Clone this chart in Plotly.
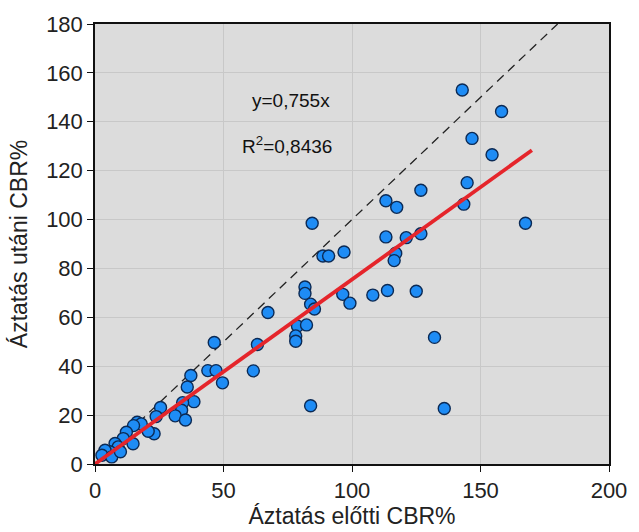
import plotly.graph_objects as go

# CBR% before soaking (x) and after soaking (y)
cbr_before = [142.9, 158.2, 146.7, 154.5, 144.8, 126.8, 113.2, 117.4, 143.5, 167.5,
              84.5, 113.2, 121.1, 126.8, 117.0, 116.4, 96.9, 88.7, 90.9, 113.8,
              125.0, 108.1, 132.1, 135.9, 81.7, 81.7, 83.9, 85.4, 96.4, 99.2,
              67.3, 78.8, 82.3, 78.1, 78.1, 63.2, 61.6, 83.9,
              46.4, 43.9, 47.1, 49.6, 37.3, 35.9, 38.5, 34.1, 33.7, 31.2,
              35.2, 25.5, 23.8, 23.0, 20.7, 16.4, 18.0, 15.0, 12.2, 11.0,
              14.8, 7.8, 9.0, 5.8, 3.9, 2.7, 6.5, 9.9]
cbr_after = [153.0, 144.2, 133.2, 126.5, 115.1, 112.0, 107.7, 105.0, 106.3, 98.5,
             98.5, 92.9, 92.6, 94.2, 86.2, 83.2, 86.7, 85.1, 85.1, 71.0,
             70.7, 69.1, 51.8, 22.7, 72.4, 69.8, 65.4, 63.4, 69.4, 65.8,
             62.0, 56.4, 56.9, 52.4, 50.2, 48.9, 38.1, 23.8,
             49.7, 38.2, 38.2, 33.2, 36.2, 31.5, 25.5, 25.1, 22.0, 19.7,
             18.0, 23.1, 19.4, 12.4, 13.4, 17.1, 16.4, 15.7, 13.0, 10.4,
             8.3, 8.4, 7.0, 5.0, 5.6, 3.6, 2.9, 5.0]

# regression through the origin and the 1:1 reference line
fit_slope = 0.755
fit_r2 = "0,8436"
fit_x = [0, 170]
identity_x = [0, 180]

x_ticks = [0, 50, 100, 150, 200]
y_ticks = [0, 20, 40, 60, 80, 100, 120, 140, 160, 180]

fig = go.Figure()

fig.add_trace(go.Scatter(
    x=identity_x, y=identity_x, mode="lines",
    line=dict(color="#222222", width=1.3, dash="9px,6px"),
    hoverinfo="skip", showlegend=False))

fig.add_trace(go.Scatter(
    x=cbr_before, y=cbr_after, mode="markers",
    marker=dict(size=12, color="#1e8cf5",
                line=dict(color="#0b2a55", width=1.4)),
    showlegend=False))

fig.add_trace(go.Scatter(
    x=fit_x, y=[fit_slope * v for v in fit_x], mode="lines",
    line=dict(color="#e5252b", width=3.8),
    hoverinfo="skip", showlegend=False))

font = "Liberation Sans, Arial, sans-serif"
slope_text = str(fit_slope).replace(".", ",")

fig.add_annotation(x=76.3, y=148.9, xref="x", yref="y", showarrow=False,
                   text="y=" + slope_text + "x",
                   font=dict(family=font, size=19, color="#111111"))
fig.add_annotation(x=74.8, y=130.3, xref="x", yref="y", showarrow=False,
                   text="R<sup>2</sup>=" + fit_r2,
                   font=dict(family=font, size=19, color="#111111"))

axis_common = dict(
    showline=True, linecolor="#111111", linewidth=1.5, mirror=True,
    ticks="outside", ticklen=6, tickwidth=1.3, tickcolor="#111111",
    showgrid=True, gridcolor="#c8c8c8", gridwidth=1.2,
    zeroline=False,
    tickfont=dict(family=font, size=22, color="#222222"),
)

fig.update_xaxes(range=[0, 200], tickvals=x_ticks,
                 title=dict(text="Áztatás előtti CBR%", standoff=0,
                            font=dict(family=font, size=23, color="#222222")),
                 **axis_common)
fig.update_yaxes(range=[0, 180], tickvals=y_ticks,
                 title=dict(text="Áztatás utáni CBR%", standoff=12,
                            font=dict(family=font, size=23, color="#222222")),
                 **axis_common)

fig.update_layout(
    width=639, height=532,
    margin=dict(l=95, r=20, t=18, b=68),
    paper_bgcolor="white", plot_bgcolor="#dcdcdc",
)

fig.write_html("out.html")
